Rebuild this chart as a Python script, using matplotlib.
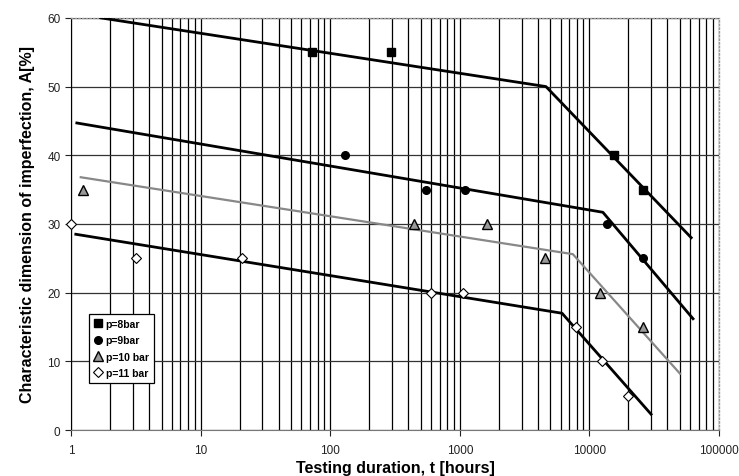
import numpy as np
import matplotlib
matplotlib.use("Agg")
import matplotlib.pyplot as plt
from matplotlib.ticker import LogLocator, FixedLocator, NullFormatter

plt.rcParams['font.family'] = ['Liberation Sans', 'DejaVu Sans']

# measured points (testing duration [h], imperfection A [%])
p8_t = [72, 295, 15500, 25800]
p8_A = [55, 55, 40, 35]
p9_t = [130, 550, 1100, 13700, 26000]
p9_A = [40, 35, 35, 30, 25]
p10_t = [1.23, 445, 1620, 4560, 12000, 25800]
p10_A = [35, 30, 30, 25, 20, 15]
p11_t = [1.0, 3.2, 21, 600, 1050, 7900, 12500, 20000]
p11_A = [30, 25, 25, 20, 20, 15, 10, 5]

# bilinear trend lines (start, knee, end)
fit8_t = [1.7, 4620, 61000]
fit8_A = [60, 50, 28]
fit9_t = [1.11, 12700, 63000]
fit9_A = [44.7, 31.7, 16.2]
fit10_t = [1.19, 7450, 50000]
fit10_A = [36.8, 25.6, 8.2]
fit11_t = [1.09, 6150, 29900]
fit11_A = [28.5, 17, 2.3]

labels = ["p=8bar", "p=9bar", "p=10 bar", "p=11 bar"]
xticks = [1, 10, 100, 1000, 10000, 100000]
yticks = [0, 10, 20, 30, 40, 50, 60]

fig = plt.figure(figsize=(7.39, 4.77), dpi=100)
ax = fig.add_axes([0.096, 0.0964, 0.877, 0.864])
ax.set_xscale('log')
ax.set_xlim(1, 100000)
ax.set_ylim(0, 60)

# grid
ax.xaxis.set_minor_locator(LogLocator(base=10, subs=np.arange(2, 10)))
ax.xaxis.set_minor_formatter(NullFormatter())
ax.grid(True, which='both', axis='x', color='black', lw=0.9)
ax.grid(True, which='major', axis='y', color='#333333', lw=0.9)
ax.set_axisbelow(True)

# trend lines
ax.plot(fit8_t, fit8_A, color='black', lw=2.0, zorder=3)
ax.plot(fit9_t, fit9_A, color='black', lw=2.0, zorder=3)
ax.plot(fit10_t, fit10_A, color='#888888', lw=1.6, zorder=3)
ax.plot(fit11_t, fit11_A, color='black', lw=2.0, zorder=3)

# data points
ax.plot(p8_t, p8_A, ls='none', marker='s', ms=6, mfc='black', mec='black',
        label=labels[0], zorder=4)
ax.plot(p9_t, p9_A, ls='none', marker='o', ms=5.5, mfc='black', mec='black',
        label=labels[1], zorder=4)
ax.plot(p10_t, p10_A, ls='none', marker='^', ms=6.5, mfc='#999999', mec='black',
        mew=1.0, label=labels[2], zorder=4)
ax.plot(p11_t, p11_A, ls='none', marker='D', ms=5, mfc='white', mec='black',
        mew=0.8, label=labels[3], zorder=4, clip_on=False)

ax.xaxis.set_major_locator(FixedLocator(xticks))
ax.set_xticklabels([str(v) for v in xticks])
ax.set_yticks(yticks)
ax.tick_params(axis='both', which='major', labelsize=8.5, length=4, width=0.8,
               colors='#222222', direction='out')
ax.tick_params(axis='x', which='minor', length=0)
ax.tick_params(axis='x', pad=6)

for side in ['top', 'right']:
    ax.spines[side].set_color('#999999')
    ax.spines[side].set_linestyle(':')
    ax.spines[side].set_linewidth(1.0)
ax.spines['left'].set_color('black')
ax.spines['bottom'].set_color('#777777')

ax.set_xlabel("Testing duration, t [hours]", fontsize=11.5, fontweight='bold', labelpad=3)
ax.set_ylabel("Characteristic dimension of imperfection, A[%]", fontsize=11.5,
              fontweight='bold', labelpad=9)

leg = ax.legend(loc='upper left', bbox_to_anchor=(0.028, 0.282),
                prop={'weight': 'bold', 'size': 7.5}, frameon=True, fancybox=False,
                edgecolor='black', framealpha=1, handlelength=0.8,
                handletextpad=0.3, labelspacing=0.6, borderpad=0.5,
                borderaxespad=0)
leg.get_frame().set_linewidth(0.9)

fig.savefig("out.png", dpi=100)
